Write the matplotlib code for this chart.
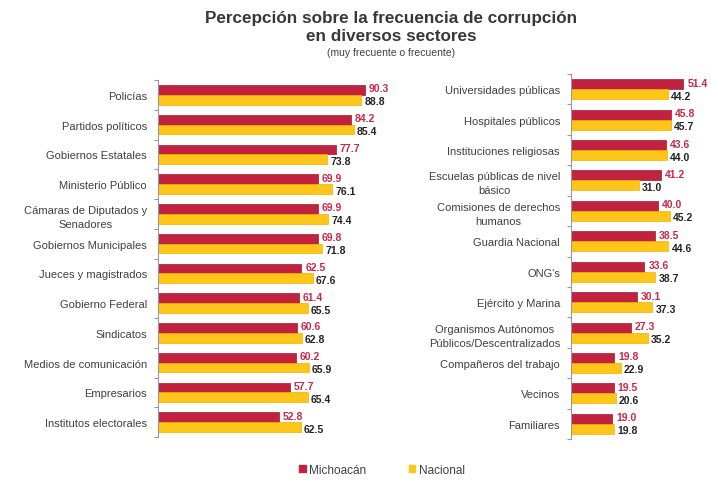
import numpy as np
import matplotlib.pyplot as plt
from matplotlib.patches import Patch

plt.rcParams['font.family'] = ['Liberation Sans', 'DejaVu Sans']

# Datos - sectores (lado izquierdo)
sect_izq = ['Policías', 'Partidos políticos', 'Gobiernos Estatales', 'Ministerio Público',
            'Cámaras de Diputados y\nSenadores', 'Gobiernos Municipales', 'Jueces y magistrados',
            'Gobierno Federal', 'Sindicatos', 'Medios de comunicación', 'Empresarios',
            'Institutos electorales']
mich_izq = [90.3, 84.2, 77.7, 69.9, 69.9, 69.8, 62.5, 61.4, 60.6, 60.2, 57.7, 52.8]
nac_izq = [88.8, 85.4, 73.8, 76.1, 74.4, 71.8, 67.6, 65.5, 62.8, 65.9, 65.4, 62.5]

# Datos - sectores (lado derecho)
sect_der = ['Universidades públicas', 'Hospitales públicos', 'Instituciones religiosas',
            'Escuelas públicas de nivel\nbásico', 'Comisiones de derechos\nhumanos',
            'Guardia Nacional', "ONG's", 'Ejército y Marina',
            'Organismos Autónomos\nPúblicos/Descentralizados', 'Compañeros del trabajo',
            'Vecinos', 'Familiares']
mich_der = [51.4, 45.8, 43.6, 41.2, 40.0, 38.5, 33.6, 30.1, 27.3, 19.8, 19.5, 19.0]
nac_der = [44.2, 45.7, 44.0, 31.0, 45.2, 44.6, 38.7, 37.3, 35.2, 22.9, 20.6, 19.8]

rojo = '#C0223F'
amarillo = '#FFC61A'
txt_rojo = '#C8284A'

fig = plt.figure(figsize=(7.11, 4.81), dpi=100)

def panel(ax, cats, mich, nac, xmax, ancho_px):
    n = len(cats)
    y = np.arange(n)
    h = 0.33
    px = xmax / ancho_px  # unidades por pixel
    ax.barh(y - h / 2, mich, height=h, color=rojo, edgecolor='#A0182F', linewidth=0.5)
    ax.barh(y + h / 2, nac, height=h, color=amarillo, edgecolor='#F0B000', linewidth=0.5)
    for i in range(n):
        ax.text(mich[i] + 4 * px, y[i] - h / 2 - 0.05, f'{mich[i]:.1f}', color=txt_rojo,
                fontsize=7.5, fontweight='bold', va='center', ha='left')
        ax.text(nac[i] + 3 * px, y[i] + h / 2 + 0.05, f'{nac[i]:.1f}', color='#222222',
                fontsize=7.5, fontweight='bold', va='center', ha='left')
    ax.set_xlim(0, xmax)
    ax.set_ylim(n - 0.5, -0.5)
    ax.set_yticks(y)
    ax.set_yticklabels(cats, fontsize=8, color='#404040', linespacing=1.5)
    ax.tick_params(axis='y', length=0, pad=8)
    ax.set_yticks(np.arange(n + 1) - 0.5, minor=True)
    ax.tick_params(axis='y', which='minor', length=3, color='#999999', width=0.8)
    for tl in ax.get_yticklabels():
        tl.set_horizontalalignment('right')
        tl.set_multialignment('center')
    ax.set_xticks([])
    for s in ['top', 'right', 'bottom']:
        ax.spines[s].set_visible(False)
    ax.spines['left'].set_color('#999999')
    ax.spines['left'].set_linewidth(0.8)

ax1 = fig.add_axes([158 / 711, 1 - 438 / 481, 229 / 711, 357 / 481])
panel(ax1, sect_izq, mich_izq, nac_izq, 100, 229)

ax2 = fig.add_axes([571 / 711, 1 - 440 / 481, 131 / 711, 365 / 481])
panel(ax2, sect_der, mich_der, nac_der, 60, 131)

fig.text(391 / 711, 1 - 18 / 481, 'Percepción sobre la frecuencia de corrupción',
         ha='center', va='center', fontsize=12.3, fontweight='bold', color='#383838')
fig.text(391 / 711, 1 - 37 / 481, 'en diversos sectores',
         ha='center', va='center', fontsize=12.3, fontweight='bold', color='#383838')
fig.text(391 / 711, 1 - 53 / 481, '(muy frecuente o frecuente)',
         ha='center', va='center', fontsize=7.5, color='#404040')

# Leyenda
handles = [Patch(color=rojo, label='Michoacán'), Patch(color=amarillo, label='Nacional')]
fig.legend(handles=handles, loc='center', bbox_to_anchor=(382 / 711, 1 - 471 / 481), ncol=2,
           frameon=False, fontsize=8.5, handlelength=0.55, handleheight=0.55, handletextpad=0.3,
           columnspacing=3.6, labelcolor='#404040')

fig.savefig('out.png', dpi=100)
